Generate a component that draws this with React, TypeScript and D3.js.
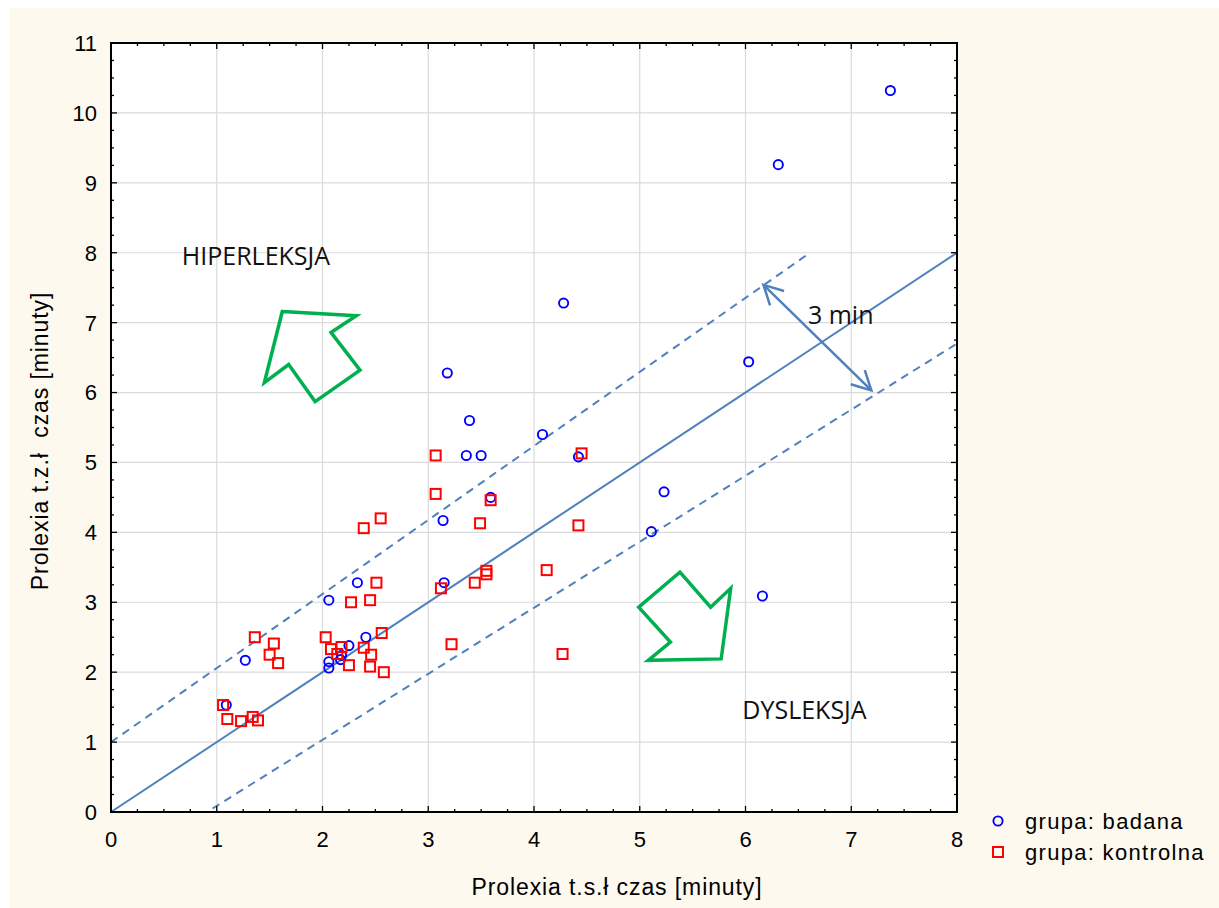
import { useRef, useEffect } from "react";
import * as d3 from "d3";

// grupa: badana (blue circles) — [t.s.ł, t.z.ł]
const badana: [number, number][] = [
  [7.37, 10.32], [6.31, 9.26], [4.28, 7.28], [6.03, 6.44], [3.18, 6.28],
  [3.39, 5.6], [4.08, 5.4], [3.36, 5.1], [3.5, 5.1], [4.42, 5.08],
  [5.23, 4.58], [3.59, 4.5], [3.14, 4.17], [5.11, 4.01], [6.16, 3.09],
  [2.33, 3.28], [3.15, 3.28], [2.06, 3.03], [1.27, 2.17], [2.41, 2.5],
  [2.25, 2.38], [2.06, 2.15], [2.06, 2.06], [2.17, 2.18], [2.18, 2.24],
  [1.09, 1.53],
];

// grupa: kontrolna (red squares)
const kontrolna: [number, number][] = [
  [3.07, 5.1], [4.45, 5.13], [3.07, 4.55], [3.59, 4.46], [2.55, 4.2],
  [2.39, 4.06], [3.49, 4.13], [4.42, 4.1], [4.12, 3.46], [3.55, 3.45],
  [3.55, 3.4], [3.44, 3.28], [3.12, 3.2], [2.51, 3.28], [2.27, 3.0],
  [2.45, 3.03], [1.36, 2.5], [1.54, 2.41], [1.5, 2.25], [1.58, 2.13],
  [2.03, 2.5], [2.56, 2.56], [2.08, 2.33], [2.18, 2.36], [2.14, 2.26],
  [2.39, 2.35], [2.46, 2.25], [2.25, 2.1], [2.45, 2.08], [2.58, 2.0],
  [3.22, 2.4], [4.27, 2.26], [1.06, 1.53], [1.1, 1.33], [1.23, 1.3],
  [1.34, 1.36], [1.39, 1.31],
];

const xTicks = [0, 1, 2, 3, 4, 5, 6, 7, 8];
const yTicks = [0, 1, 2, 3, 4, 5, 6, 7, 8, 9, 10, 11];

// reference lines (hand drawn in the original)
const identityLine: [number, number][] = [[0, 0], [8, 8]];
const upperBand: [number, number][] = [[0, 1], [6.61, 8]];
const lowerBand: [number, number][] = [[0.96, 0.05], [8, 6.7]];
const spanArrow: [number, number][] = [[6.17, 7.54], [7.19, 6.03]];

// big green outline arrows
const arrowHiper: [number, number][] = [
  [1.62, 7.16], [2.32, 7.1], [2.08, 6.86], [2.355, 6.32], [1.93, 5.87], [1.68, 6.4], [1.45, 6.14],
];
const arrowDys: [number, number][] = [
  [5.38, 3.43], [5.67, 2.93], [5.86, 3.2], [5.77, 2.19], [5.08, 2.17], [5.29, 2.43], [4.99, 2.93],
];

const notes = [
  { text: "HIPERLEKSJA", x: 0.67, y: 7.83 },
  { text: "DYSLEKSJA", x: 5.97, y: 1.33 },
  { text: "3 min", x: 6.59, y: 6.98 },
];

const legendItems = ["grupa: badana", "grupa: kontrolna"];

const App = () => {
  const svgRef = useRef<SVGSVGElement>(null);
  const width = 1219;
  const height = 908;

  useEffect(() => {
    const svg = d3.select(svgRef.current);
    svg.selectAll("*").remove();

    const x = d3.scaleLinear().domain([0, 8]).range([111, 957]);
    const y = d3.scaleLinear().domain([0, 11]).range([812, 43]);
    const axisFont = "'Liberation Sans', Arial, sans-serif";
    const noteFont = "'Open Sans', sans-serif";
    const blue = "#4f81bd";

    // background
    svg.append("rect").attr("x", 10).attr("y", 8).attr("width", width - 10).attr("height", height - 8).attr("fill", "#fdf9ee");
    svg.append("rect")
      .attr("x", x(0)).attr("y", y(11))
      .attr("width", x(8) - x(0)).attr("height", y(0) - y(11))
      .attr("fill", "#fff");

    // grid
    const grid = svg.append("g").attr("stroke", "#dadada").attr("stroke-width", 1.2);
    grid.selectAll(".gx").data(xTicks.slice(1, -1)).enter().append("line")
      .attr("x1", d => x(d)).attr("x2", d => x(d)).attr("y1", y(0)).attr("y2", y(11));
    grid.selectAll(".gy").data(yTicks.slice(1, -1)).enter().append("line")
      .attr("y1", d => y(d)).attr("y2", d => y(d)).attr("x1", x(0)).attr("x2", x(8));

    // reference lines
    const line = d3.line<[number, number]>().x(d => x(d[0])).y(d => y(d[1]));
    svg.append("path").attr("d", line(identityLine)).attr("stroke", blue).attr("stroke-width", 2).attr("fill", "none");
    [upperBand, lowerBand].forEach(b => {
      svg.append("path").attr("d", line(b)).attr("stroke", blue).attr("stroke-width", 2)
        .attr("stroke-dasharray", "8,6").attr("fill", "none");
    });

    // double arrow "3 min"
    svg.append("path").attr("d", line(spanArrow)).attr("stroke", blue).attr("stroke-width", 2.5).attr("fill", "none");
    const a0 = [x(spanArrow[0][0]), y(spanArrow[0][1])];
    const a1 = [x(spanArrow[1][0]), y(spanArrow[1][1])];
    [[a0, a1], [a1, a0]].forEach(([tip, other]) => {
      const dx = other[0] - tip[0];
      const dy = other[1] - tip[1];
      const len = Math.hypot(dx, dy);
      const ux = dx / len, uy = dy / len;
      const nx = -uy, ny = ux;
      const b1 = [tip[0] + 19 * ux + 10 * nx, tip[1] + 19 * uy + 10 * ny];
      const b2 = [tip[0] + 19 * ux - 10 * nx, tip[1] + 19 * uy - 10 * ny];
      svg.append("path")
        .attr("d", `M${b1[0]},${b1[1]}L${tip[0]},${tip[1]}L${b2[0]},${b2[1]}`)
        .attr("stroke", blue).attr("stroke-width", 2.5).attr("fill", "none");
    });

    // green arrows
    [arrowHiper, arrowDys].forEach(poly => {
      svg.append("path").attr("d", line(poly) + "Z")
        .attr("stroke", "#00b050").attr("stroke-width", 3.5).attr("stroke-linejoin", "miter").attr("fill", "none");
    });

    // notes
    svg.selectAll(".note").data(notes).enter().append("text")
      .attr("x", d => x(d.x)).attr("y", d => y(d.y))
      .attr("font-family", noteFont).attr("font-size", 25).attr("fill", "#111")
      .text(d => d.text);

    // points
    svg.selectAll(".pt-b").data(badana).enter().append("circle")
      .attr("cx", d => x(d[0])).attr("cy", d => y(d[1])).attr("r", 4.6)
      .attr("fill", "none").attr("stroke", "#0000ff").attr("stroke-width", 1.9);
    svg.selectAll(".pt-k").data(kontrolna).enter().append("rect")
      .attr("x", d => x(d[0]) - 5).attr("y", d => y(d[1]) - 5)
      .attr("width", 10).attr("height", 10)
      .attr("fill", "none").attr("stroke", "#ff0000").attr("stroke-width", 2);

    // frame and ticks
    const ticks = svg.append("g").attr("stroke", "#000").attr("stroke-width", 1.3);
    const minorX = d3.range(0, 8.001, 0.25);
    const minorY = d3.range(0, 11.001, 0.25);
    const isMajor = (v: number) => Math.abs(v - Math.round(v)) < 1e-6;
    minorX.forEach(v => {
      const L = isMajor(v) ? 6 : 3;
      ticks.append("line").attr("x1", x(v)).attr("x2", x(v)).attr("y1", y(0)).attr("y2", y(0) - L);
      ticks.append("line").attr("x1", x(v)).attr("x2", x(v)).attr("y1", y(11)).attr("y2", y(11) + L);
    });
    minorY.forEach(v => {
      const L = isMajor(v) ? 6 : 3;
      ticks.append("line").attr("y1", y(v)).attr("y2", y(v)).attr("x1", x(0)).attr("x2", x(0) + L);
      ticks.append("line").attr("y1", y(v)).attr("y2", y(v)).attr("x1", x(8)).attr("x2", x(8) - L);
    });
    svg.append("rect")
      .attr("x", x(0)).attr("y", y(11))
      .attr("width", x(8) - x(0)).attr("height", y(0) - y(11))
      .attr("fill", "none").attr("stroke", "#000").attr("stroke-width", 2);

    // tick labels
    svg.selectAll(".xl").data(xTicks).enter().append("text")
      .attr("x", d => x(d)).attr("y", 847)
      .attr("text-anchor", "middle").attr("font-family", axisFont).attr("font-size", 22).attr("fill", "#000")
      .text(d => d);
    svg.selectAll(".yl").data(yTicks).enter().append("text")
      .attr("x", 97).attr("y", d => y(d)).attr("dy", "0.36em")
      .attr("text-anchor", "end").attr("font-family", axisFont).attr("font-size", 22).attr("fill", "#000")
      .text(d => d);

    // axis titles
    svg.append("text")
      .attr("x", 617).attr("y", 895).attr("text-anchor", "middle")
      .attr("font-family", axisFont).attr("font-size", 23).attr("letter-spacing", 0.9).attr("fill", "#000")
      .text("Prolexia t.s.ł czas [minuty]");
    svg.append("text")
      .attr("transform", "translate(48,441) rotate(-90)").attr("text-anchor", "middle")
      .attr("font-family", axisFont).attr("font-size", 23).attr("letter-spacing", 0.9).attr("fill", "#000")
      .style("white-space", "pre")
      .text("Prolexia t.z.ł  czas [minuty]");

    // legend
    const lg = svg.append("g");
    lg.append("circle").attr("cx", 998).attr("cy", 821).attr("r", 4.6)
      .attr("fill", "none").attr("stroke", "#0000ff").attr("stroke-width", 1.9);
    lg.append("rect").attr("x", 993).attr("y", 847).attr("width", 10).attr("height", 10)
      .attr("fill", "none").attr("stroke", "#ff0000").attr("stroke-width", 2);
    lg.selectAll(".lt").data(legendItems).enter().append("text")
      .attr("x", 1025).attr("y", (_d, i) => 821 + i * 31).attr("dy", "0.36em")
      .attr("font-family", axisFont).attr("font-size", 22).attr("letter-spacing", 1.3).attr("fill", "#000")
      .text(d => d);
  }, []);

  return (
    <svg
      ref={svgRef}
      width={width}
      height={height}
      style={{ position: "absolute", left: 0, top: 0, display: "block" }}
    />
  );
};

export default App;
